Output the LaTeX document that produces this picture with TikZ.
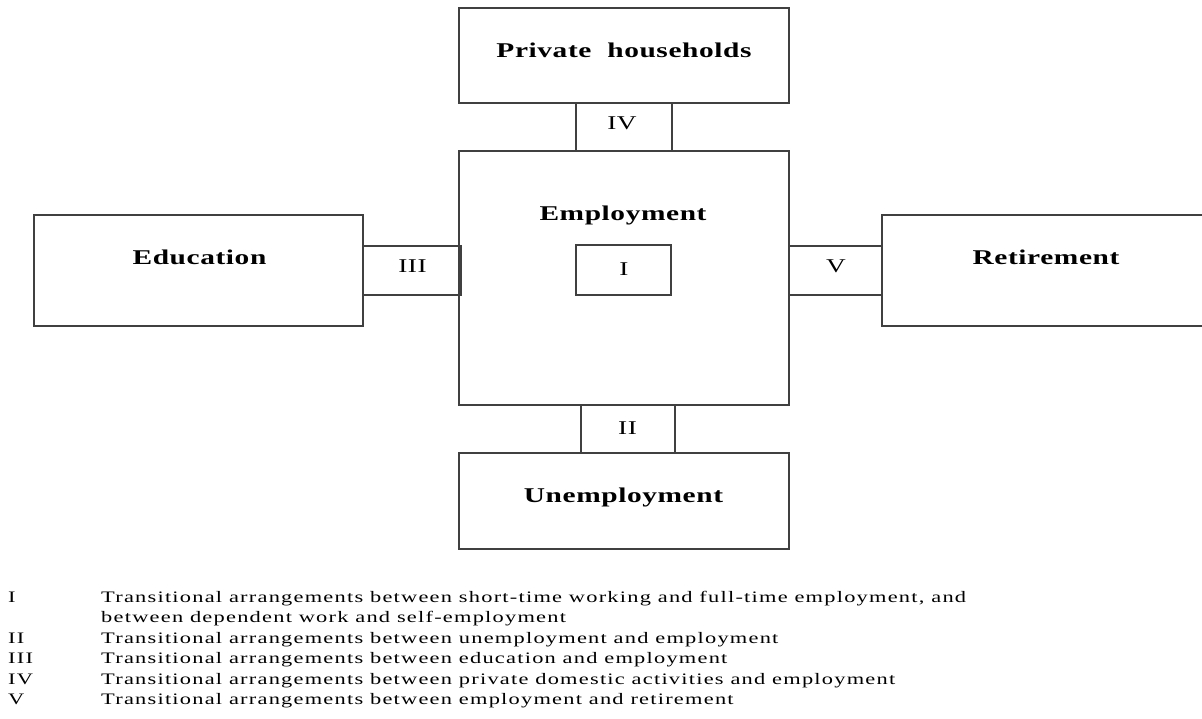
\documentclass[tikz,border=0pt]{standalone}
\usepackage{fontspec}
\setmainfont{Liberation Serif}
\newfontfamily\legfont{Liberation Serif}[FakeStretch=1.4,LetterSpace=7.7]
\newfontfamily\boxfont{Liberation Serif}[FakeStretch=1.4,LetterSpace=2.8]
\tikzset{
  box/.style={draw=black!75, line width=1.3pt, inner sep=0pt, rectangle},
  lbl/.style={font=\boxfont\bfseries\fontsize{21}{25}\selectfont, inner sep=0pt, anchor=base},
  rom/.style={font=\boxfont\fontsize{19.5}{23}\selectfont, inner sep=0pt, anchor=base},
  legnum/.style={font=\legfont\fontsize{16}{19}\selectfont, inner sep=0pt, anchor=base west},
  legtxt/.style={font=\legfont\fontsize{16}{19}\selectfont, inner sep=0pt, anchor=base west}
}
\begin{document}
\begin{tikzpicture}[x=1pt,y=-1pt]
\clip (0,0) rectangle (1202,719);
\fill[white] (0,0) rectangle (1202,719);
% boxes
\node[box, minimum width=330pt, minimum height=95pt] (ph) at (624,55.5) {};
\node[box, minimum width=96pt, minimum height=48pt] (iv) at (624,127) {};
\node[box, minimum width=330pt, minimum height=254pt] (emp) at (624,278) {};
\node[box, minimum width=95pt, minimum height=50pt] (i) at (623.5,270) {};
\node[box, minimum width=329pt, minimum height=111pt] (edu) at (198.5,270.5) {};
\node[box, minimum width=98pt, minimum height=49pt] (iii) at (412,270.5) {};
\node[box, minimum width=94pt, minimum height=49pt] (v) at (835.5,270.5) {};
\node[box, minimum width=330pt, minimum height=111pt] (ret) at (1047,270.5) {};
\node[box, minimum width=94pt, minimum height=48pt] (ii) at (628,429) {};
\node[box, minimum width=330pt, minimum height=96pt] (unemp) at (624,501) {};
% labels
\node[lbl] (phl) at (624,57.5) {Private\ \ households};
\node[lbl] (empl) at (623,221) {Employment};
\node[lbl] (edul) at (199.5,265) {Education};
\node[lbl] (retl) at (1046,265) {Retirement};
\node[lbl] (unempl) at (623.5,502) {Unemployment};
\node[rom] (ivl) at (622,130) {IV};
\node[rom] (iiil) at (412.5,273) {III};
\node[rom] (vl) at (836,273) {V};
\node[rom] (iil) at (627.5,434) {II};
\node[rom] (il) at (624,276) {I};
% legend
\node[legnum] (n1) at (8,602) {I};
\node[legtxt] (t1) at (101,602) {Transitional arrangements between short-time working and full-time employment, and};
\node[legtxt] (t1b) at (101,622.5) {between dependent work and self-employment};
\node[legnum] (n2) at (8,643) {II};
\node[legtxt] (t2) at (101,643) {Transitional arrangements between unemployment and employment};
\node[legnum] (n3) at (8,663.5) {III};
\node[legtxt] (t3) at (101,663.5) {Transitional arrangements between education and employment};
\node[legnum] (n4) at (8,684) {IV};
\node[legtxt] (t4) at (101,684) {Transitional arrangements between private domestic activities and employment};
\node[legnum] (n5) at (8,704.5) {V};
\node[legtxt] (t5) at (101,704.5) {Transitional arrangements between employment and retirement};
\end{tikzpicture}
\end{document}
